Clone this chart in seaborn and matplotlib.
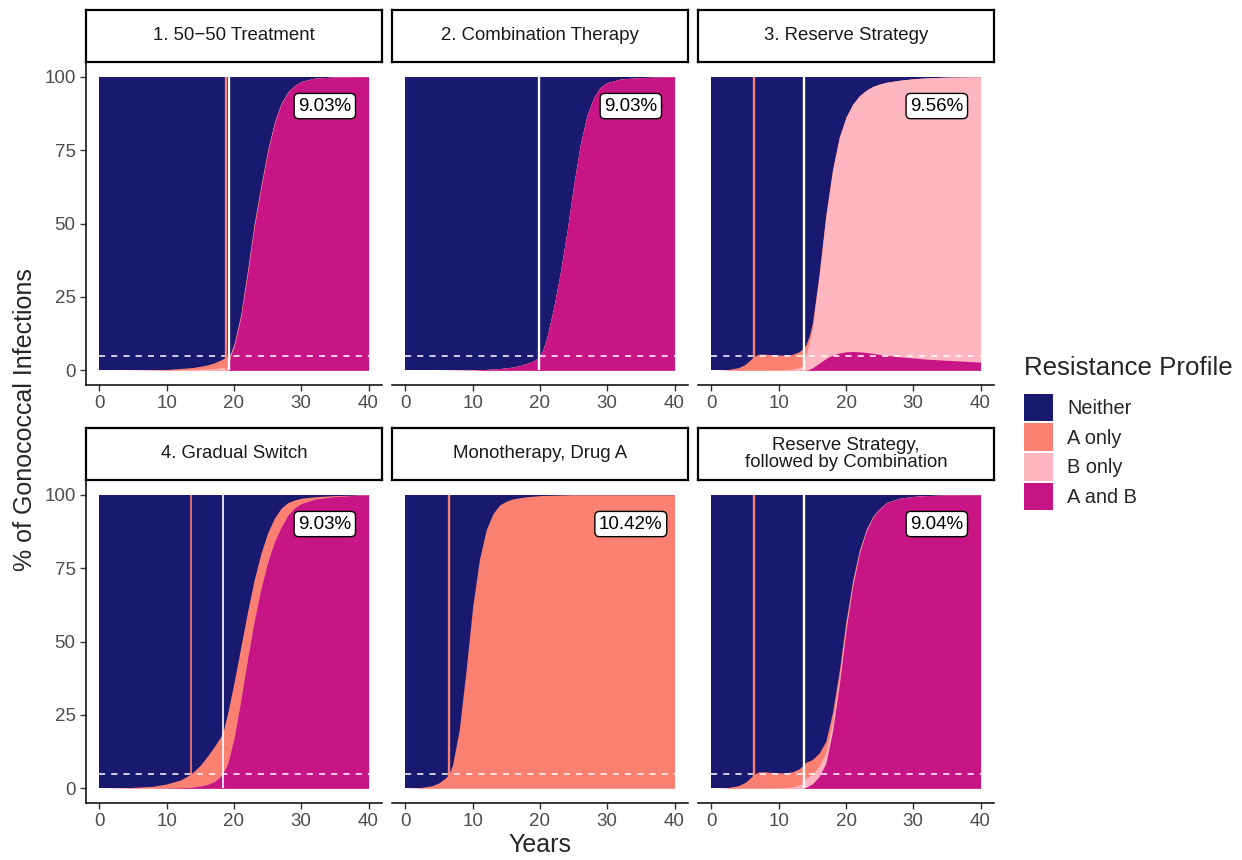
import numpy as np
import pandas as pd
import seaborn as sns
import matplotlib.pyplot as plt
from matplotlib.patches import Patch

# ---- chart data (percent of infections) ----
titles = ['1. 50\u221250 Treatment', '2. Combination Therapy', '3. Reserve Strategy',
          '4. Gradual Switch', 'Monotherapy, Drug A', 'Reserve Strategy,\nfollowed by Combination']
labels = ['9.03%', '9.03%', '9.56%', '9.03%', '10.42%', '9.04%']
salmon_lines = [18.8, None, 6.35, 13.65, 6.5, 6.35]
white_lines = [19.3, 19.8, 13.8, 18.4, None, 13.8]

profiles = ['Neither', 'A only', 'B only', 'A and B']
colours = ['#191970', '#FA8072', '#FFB6C1', '#C71585']

p1_years = [0, 5, 10, 12, 14, 16, 17, 18, 18.8, 19.1, 19.4, 20, 21, 22, 23, 24, 25, 26, 27, 28, 29, 30, 32, 35, 40]
p1_neither = [100, 99.95, 99.7, 99.4, 99.0, 98.2, 97.5, 96.5, 95.6, 95.2, 94.7, 91, 81, 66, 50, 37, 25, 15.5, 9, 5.2, 3, 1.6, 0.5, 0.1, 0]
p1_a_only = [0, 0.04, 0.22, 0.45, 0.75, 1.35, 1.9, 2.6, 3.3, 3.6, 0.5, 0.6, 0.7, 0.9, 0.9, 0.8, 0.6, 0.4, 0.3, 0.15, 0.1, 0.05, 0, 0, 0]
p1_b_only = [0, 0.01, 0.08, 0.15, 0.25, 0.45, 0.6, 0.9, 1.1, 1.1, 0.4, 0.4, 0.4, 0.5, 0.5, 0.4, 0.3, 0.2, 0.1, 0.05, 0, 0, 0, 0, 0]
p1_a_and_b = [0, 0, 0, 0, 0, 0, 0, 0, 0, 0.1, 4.4, 8.0, 17.9, 32.6, 48.6, 61.8, 74.1, 83.9, 90.6, 94.6, 96.9, 98.35, 99.5, 99.9, 100]

p2_years = [0, 5, 10, 12, 14, 16, 17, 18, 19, 19.8, 20.4, 21, 22, 23, 24, 25, 26, 27, 28, 29, 30, 32, 35, 40]
p2_neither = [100, 100, 99.9, 99.7, 99.4, 98.9, 98.4, 97.7, 96.8, 95.7, 93.2, 89, 79, 67, 53, 37, 23, 13, 7, 3.5, 2, 0.8, 0.3, 0]
p2_a_only = [0] * 24
p2_b_only = [0] * 24
p2_a_and_b = [0, 0, 0.1, 0.3, 0.6, 1.1, 1.6, 2.3, 3.2, 4.3, 6.8, 11, 21, 33, 47, 63, 77, 87, 93, 96.5, 98, 99.2, 99.7, 100]

p3_years = [0, 2, 4, 5, 6, 6.35, 7, 8, 9, 10, 11, 12, 13, 13.7, 14, 14.5, 15, 16, 17, 18,
            19, 20, 21, 22, 23, 24, 25, 26, 28, 30, 32, 35, 40]
p3_neither = [100, 99.9, 99.1, 98, 96, 95.2, 94.5, 94.5, 94.65, 94.8, 94.8, 94.6, 93.7, 92.4, 91.5, 88.5, 84, 67, 47, 31.5,
              20.5, 13.7, 9.3, 6.4, 4.6, 3.3, 2.5, 1.9, 1.2, 0.7, 0.4, 0.15, 0]
p3_a_only = [0, 0.1, 0.9, 2.0, 4.0, 4.8, 5.5, 5.5, 5.3, 5.1, 5.0, 5.0, 5.4, 6.0, 3.5, 2.5, 1.8, 1.2, 0.8, 0.5,
             0.3, 0.2, 0.15, 0.1, 0.05, 0, 0, 0, 0, 0, 0, 0, 0]
p3_b_only = [0, 0, 0, 0, 0, 0, 0, 0, 0.05, 0.1, 0.2, 0.4, 0.9, 1.6, 5.0, 8.7, 13.4, 29.4, 48.2, 62.8,
             73.3, 79.8, 84.15, 87.2, 89.25, 90.9, 92.1, 93.0, 94.2, 95.1, 95.8, 96.45, 97.2]
p3_a_and_b = [0, 0, 0, 0, 0, 0, 0, 0, 0, 0, 0, 0, 0, 0, 0, 0.3, 0.8, 2.4, 4.0, 5.2,
              5.9, 6.3, 6.4, 6.3, 6.1, 5.8, 5.4, 5.1, 4.6, 4.2, 3.8, 3.4, 2.8]

p4_years = [0, 4, 8, 10, 12, 13, 14, 15, 16, 17, 18, 18.4, 19, 20, 21, 22, 23, 24, 25, 26, 27, 28, 29, 30, 32, 35, 40]
p4_neither = [100, 99.8, 99.3, 98.5, 97.2, 96, 94.3, 92.1, 89.2, 86, 82.5, 80.5, 75, 64, 52, 40, 29, 20, 13, 8, 4.6, 2.7, 1.8, 1.2, 0.7, 0.3, 0]
p4_a_only = [0, 0.2, 0.7, 1.4, 2.6, 3.7, 5.2, 7.1, 9.5, 11.8, 13.5, 14.0, 17, 19, 18, 16, 14, 12, 10, 8, 6.4, 4.3, 2.7, 1.8, 0.8, 0.3, 0]
p4_b_only = [0] * 27
p4_a_and_b = [0, 0, 0, 0.1, 0.2, 0.3, 0.5, 0.8, 1.3, 2.2, 4, 5.5, 8, 17, 30, 44, 57, 68, 77, 84, 89, 93, 95.5, 97, 98.5, 99.4, 100]

p5_years = [0, 2, 4, 5, 6, 6.5, 7, 8, 9, 10, 11, 12, 13, 14, 15, 16, 18, 20, 25, 30, 40]
p5_neither = [100, 99.8, 99.1, 98.1, 96.4, 95, 92, 80, 60, 38, 22, 12, 6.5, 3.5, 2.2, 1.4, 0.7, 0.3, 0, 0, 0]
p5_a_only = [0, 0.2, 0.9, 1.9, 3.6, 5, 8, 20, 40, 62, 78, 88, 93.5, 96.5, 97.8, 98.6, 99.3, 99.7, 100, 100, 100]
p5_b_only = [0] * 21
p5_a_and_b = [0] * 21

p6_years = [0, 2, 4, 5, 6, 6.35, 7, 8, 9, 10, 11, 12, 13, 13.7, 14, 15, 16, 17, 18, 19,
            20, 21, 22, 23, 24, 25, 26, 28, 30, 32, 35, 40]
p6_neither = [100, 99.9, 99.1, 98, 96, 95.2, 94.4, 94.4, 94.55, 94.7, 94.7, 94.4, 93.4, 92.0, 91.2, 90.2, 88, 84, 74, 60,
              43, 29, 18.8, 11.8, 7.3, 4.7, 2.7, 1.2, 0.6, 0.3, 0.1, 0]
p6_a_only = [0, 0.1, 0.9, 2.0, 4.0, 4.8, 5.6, 5.6, 5.4, 5.2, 5.1, 5.1, 5.5, 6.2, 5.5, 5.0, 4.5, 4.0, 3.5, 2.5,
             1.6, 1.0, 0.6, 0.35, 0.2, 0.1, 0.05, 0, 0, 0, 0, 0]
p6_b_only = [0, 0, 0, 0, 0, 0, 0, 0, 0.05, 0.1, 0.2, 0.5, 1.1, 1.8, 3.0, 3.3, 3.5, 3.5, 3.0, 2.2,
             1.5, 1.0, 0.6, 0.35, 0.2, 0.1, 0.05, 0, 0, 0, 0, 0]
p6_a_and_b = [0, 0, 0, 0, 0, 0, 0, 0, 0, 0, 0, 0, 0, 0, 0.3, 1.5, 4.0, 8.5, 19.5, 35.3,
              53.9, 69, 80, 87.5, 92.3, 95.1, 97.2, 98.8, 99.4, 99.7, 99.9, 100]

panels = [
    (p1_years, p1_neither, p1_a_only, p1_b_only, p1_a_and_b),
    (p2_years, p2_neither, p2_a_only, p2_b_only, p2_a_and_b),
    (p3_years, p3_neither, p3_a_only, p3_b_only, p3_a_and_b),
    (p4_years, p4_neither, p4_a_only, p4_b_only, p4_a_and_b),
    (p5_years, p5_neither, p5_a_only, p5_b_only, p5_a_and_b),
    (p6_years, p6_neither, p6_a_only, p6_b_only, p6_a_and_b),
]

sns.set_theme(style='white')
plt.rcParams['font.family'] = ['Liberation Sans', 'DejaVu Sans']

W, H = 1242, 860
fig = plt.figure(figsize=(W / 100, H / 100), dpi=100)

col_left = [86, 392, 698]
row_top = [62, 480]
pan_w, pan_h, strip_h = 296, 323, 52

for i, (years, neither, a_only, b_only, a_and_b) in enumerate(panels):
    r, c = divmod(i, 3)
    l, t = col_left[c], row_top[r]
    ax = fig.add_axes([l / W, 1 - (t + pan_h) / H, pan_w / W, pan_h / H])

    df = pd.DataFrame({'Neither': neither, 'A only': a_only, 'B only': b_only, 'A and B': a_and_b},
                      index=years)
    pct = df.div(df.sum(axis=1), axis=0) * 100

    # stack from the bottom: A and B, B only, A only, Neither
    cum = pct[['A and B', 'B only', 'A only', 'Neither']].cumsum(axis=1)
    x = pct.index.values
    for prof in ['Neither', 'A only', 'B only', 'A and B']:
        ax.fill_between(x, 0, cum[prof].values, color=colours[profiles.index(prof)], lw=0)

    ax.hlines(5, 0, 40, colors='white', linestyles=(0, (4, 4)), lw=1.1)
    lw_v = 1.2 if i == 3 else 1.7
    if salmon_lines[i] is not None:
        ax.vlines(salmon_lines[i], 0, 100, colors='#FA8072', lw=lw_v)
    if white_lines[i] is not None:
        ax.vlines(white_lines[i], 0, 100, colors='white', lw=lw_v)

    ax.text(33.5, 90, labels[i], ha='center', va='center', fontsize=13.5, color='black',
            bbox=dict(boxstyle='round,pad=0.22,rounding_size=0.25', fc='white', ec='black', lw=1))

    ax.set_xlim(-2, 42)
    ax.set_ylim(-5, 105)
    ax.set_xticks([0, 10, 20, 30, 40])
    ax.set_yticks([0, 25, 50, 75, 100])
    ax.set_facecolor('white')
    for s in ['top', 'right']:
        ax.spines[s].set_visible(False)
    ax.spines['bottom'].set_color('black')
    ax.spines['bottom'].set_linewidth(1.1)
    ax.tick_params(axis='both', colors='#333333', labelcolor='#4D4D4D', labelsize=13.5,
                   length=4, width=1, direction='out', bottom=True, left=(c == 0))
    if c == 0:
        ax.spines['left'].set_color('black')
        ax.spines['left'].set_linewidth(1.1)
    else:
        ax.spines['left'].set_visible(False)
        ax.set_yticklabels([])

    # facet strip
    sax = fig.add_axes([l / W, 1 - t / H, pan_w / W, strip_h / H])
    sax.set_xticks([])
    sax.set_yticks([])
    sax.set_facecolor('white')
    for s in sax.spines.values():
        s.set_visible(True)
        s.set_color('black')
        s.set_linewidth(1.6)
    sax.text(0.5, 0.5, titles[i], ha='center', va='center', fontsize=13.4,
             color='#1A1A1A', linespacing=1.05, transform=sax.transAxes)

fig.text(540 / W, 1 - 845 / H, 'Years', ha='center', va='center', fontsize=18)
fig.text(25 / W, 1 - 420 / H, '% of Gonococcal Infections', ha='center', va='center',
         rotation=90, fontsize=18)

# legend: title placed separately to get the wider gap above the keys
fig.text(1024 / W, 1 - 368 / H, 'Resistance Profile', ha='left', va='center', fontsize=18.6)
handles = [Patch(facecolor=col, edgecolor='none', label=p) for p, col in zip(profiles, colours)]
fig.legend(handles=handles, loc='center left',
           bbox_to_anchor=(1014 / W, 1 - 452 / H), frameon=False, fontsize=14.4,
           handlelength=1.45, handleheight=1.75, handletextpad=0.7, labelspacing=0.1,
           borderpad=0)

fig.savefig('out.png', dpi=100, facecolor='white')
